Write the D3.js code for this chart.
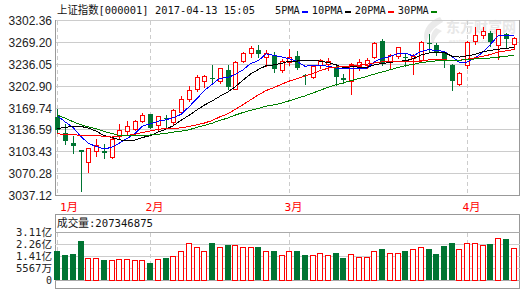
<!DOCTYPE html>
<html>
<head>
<meta charset="utf-8">
<script src="https://cdn.jsdelivr.net/npm/d3@7"></script>
<style>
html, body { margin: 0; padding: 0; background: #fff; overflow: hidden; }
svg { display: block; }
text { font-family: "Liberation Sans", Arial, "Noto Sans CJK SC", sans-serif; font-size: 12px; fill: #222; }
.mono { font-family: "DejaVu Sans Mono", "Noto Sans CJK SC", monospace; font-size: 11px; fill: #111; }
.vlab { font-size: 10.5px; fill: #222; }
</style>
</head>
<body>
<svg id="chart" width="520" height="289"></svg>
<script>
// trading days shown (2017-01-11 .. 2017-04-13)
const dates = [
  "01-11","01-12","01-13","01-16","01-17","01-18","01-19","01-20","01-23","01-24","01-25","01-26",
  "02-03","02-06","02-07","02-08","02-09","02-10","02-13","02-14","02-15","02-16","02-17","02-20",
  "02-21","02-22","02-23","02-24","02-27","02-28",
  "03-01","03-02","03-03","03-06","03-07","03-08","03-09","03-10","03-13","03-14","03-15","03-16",
  "03-17","03-20","03-21","03-22","03-23","03-24","03-27","03-28","03-29","03-30","03-31",
  "04-05","04-06","04-07","04-10","04-11","04-12","04-13"
];

const open = [3156,3132,3116,3105.5,3087.6,3104.3,3104,3095.2,3127,3134.6,3138.2,3149.8,
  3159.9,3144.3,3155,3148.2,3164.4,3183.7,3198.8,3211.4,3214.9,3211.4,3226.6,3198.8,
  3241.7,3253.4,3258,3247,3249.3,3226.6,
  3239.2,3249.3,3219,3216.4,3234.2,3237,3231.6,3215,3211.4,3233.1,3235,3246.7,
  3272,3240.7,3249.3,3247,3245.8,3242.8,3268.5,3264.5,3253.4,3234.2,3206.4,
  3234.2,3272,3281.1,3283.7,3264.5,3282.2,3266];
const high = [3167.5,3145.8,3128,3106.5,3109.5,3123.1,3115.5,3124,3145.8,3149.3,3151,3162.5,
  3161,3158,3158.5,3167.5,3187.6,3202.8,3219,3220,3235.2,3231,3234.2,3240.5,
  3255,3264.4,3264.5,3257,3254.4,3244,
  3259.5,3255.4,3221.6,3235,3244,3245,3235,3222,3238,3244,3246,3270,
  3274.6,3252,3262,3251,3252,3271,3282.2,3268,3256,3236.7,3224,
  3272,3292.2,3292,3287,3289.8,3284,3278];
const low = [3134,3115.5,3101.2,3044.2,3072.4,3097.7,3093.7,3094,3125,3130.6,3136,3148,
  3139.5,3137,3140.7,3146,3162,3181,3196,3202,3206.4,3207,3198.8,3198,
  3240,3246.7,3246.7,3234,3224,3224,
  3235.2,3229,3205.4,3215,3230,3228,3204,3208,3191.3,3227,3230,3246,
  3235.2,3229,3246,3234,3221.6,3241,3254.3,3250,3231.6,3196.3,3204,
  3231,3267,3276,3264,3244.3,3261.9,3259];
const close = [3136.75,3119.29,3112.76,3103.43,3108.77,3113.01,3101.30,3123.14,3136.77,3142.55,3149.55,3159.17,
  3140.17,3156.98,3153.09,3166.98,3183.18,3196.70,3216.84,3217.93,3212.99,3229.62,3202.08,3239.96,
  3253.33,3261.22,3251.37,3253.43,3228.66,3241.73,
  3246.93,3230.03,3218.31,3233.87,3242.41,3240.66,3216.75,3212.76,3237.02,3239.33,3241.76,3268.94,
  3237.45,3250.81,3261.61,3245.22,3248.55,3269.45,3266.96,3252.95,3241.31,3210.24,3222.51,
  3270.05,3281.00,3286.62,3269.39,3288.97,3273.83,3275.96];

const ma5 = [3157.88,3148.65,3140.34,3126.78,3116.20,3111.45,3107.85,3109.93,3116.60,3123.35,
  3130.66,3142.24,3145.64,3149.68,3151.79,3155.28,3160.08,3171.39,3183.36,3196.33,
  3205.53,3214.82,3215.89,3220.52,3227.60,3237.24,3241.59,3251.86,3249.60,3247.28,
  3244.42,3240.16,3233.13,3234.17,3234.31,3233.06,3230.40,3229.29,3229.92,3229.30,
  3229.52,3239.96,3244.90,3247.66,3252.11,3252.81,3248.73,3255.13,3258.36,3256.63,
  3255.84,3248.18,3238.79,3239.41,3245.02,3254.08,3265.91,3279.21,3279.96,3278.95];
const ma10 = [3138.61,3140.31,3141.98,3141.96,3139.24,3134.67,3128.25,3125.14,3121.69,3119.78,
  3121.06,3125.05,3127.79,3133.14,3137.57,3142.97,3151.16,3158.51,3166.52,3174.06,
  3180.40,3187.45,3193.64,3201.94,3211.96,3221.39,3228.20,3233.88,3235.06,3237.44,
  3240.83,3240.87,3242.50,3241.89,3240.80,3238.74,3235.28,3231.21,3232.05,3231.81,
  3231.29,3235.18,3237.10,3238.79,3240.71,3241.17,3244.35,3250.01,3253.01,3254.37,
  3254.33,3248.46,3246.96,3248.89,3250.82,3254.96,3257.05,3259.00,3259.69,3261.99];
const ma20 = [3130.63,3129.57,3129.32,3128.34,3127.88,3128.39,3126.58,3125.76,3127.09,3128.09,
  3129.83,3132.68,3134.88,3137.55,3138.41,3138.82,3139.71,3141.83,3144.11,3146.92,
  3150.73,3156.25,3160.71,3167.54,3174.77,3182.18,3189.68,3196.20,3200.79,3205.75,
  3210.62,3214.16,3218.07,3221.91,3226.38,3230.06,3231.74,3232.54,3233.55,3234.62,
  3236.06,3238.03,3239.80,3240.34,3240.75,3239.95,3239.81,3240.61,3242.53,3243.09,
  3242.81,3241.82,3242.03,3243.84,3245.77,3248.06,3250.70,3254.51,3256.35,3258.18];
const ma30 = [3158.75,3154.40,3149.05,3144.36,3141.17,3138.28,3134.25,3131.17,3127.97,3127.62,
  3127.44,3128.06,3128.81,3129.94,3131.11,3133.25,3134.77,3136.68,3140.23,3143.41,
  3146.69,3150.94,3154.47,3159.01,3162.93,3166.34,3169.21,3172.51,3174.42,3177.09,
  3180.76,3184.46,3187.97,3192.32,3196.78,3201.03,3204.88,3207.87,3211.21,3214.44,
  3217.51,3221.17,3224.41,3227.54,3231.16,3233.76,3235.94,3238.37,3240.04,3241.21,
  3242.15,3241.50,3242.18,3243.19,3244.11,3244.96,3245.56,3246.74,3248.25,3249.39];

// volume, shares
const volume = [1.90e8,1.64e8,1.70e8,2.55e8,1.47e8,1.43e8,1.36e8,1.36e8,1.40e8,1.40e8,1.30e8,1.30e8,
  1.12e8,1.40e8,1.43e8,1.56e8,1.92e8,2.40e8,2.18e8,1.92e8,2.40e8,2.18e8,2.31e8,2.33e8,
  2.14e8,2.14e8,2.14e8,1.92e8,1.88e8,1.64e8,
  1.92e8,1.88e8,1.68e8,1.68e8,1.75e8,1.68e8,1.75e8,1.49e8,1.73e8,1.53e8,1.53e8,1.92e8,
  2.07e8,1.79e8,1.75e8,1.94e8,2.01e8,2.18e8,2.07e8,1.70e8,2.22e8,2.46e8,2.01e8,
  2.44e8,2.44e8,2.33e8,2.35e8,2.77e8,2.66e8,207346875];

const priceTicks = [3037.12,3070.28,3103.43,3136.59,3169.74,3202.90,3236.05,3269.20,3302.36];
const volTickLabels = ["0","5567万","1.41亿","2.26亿","3.11亿"];
const monthStarts = ["01-11","02-03","03-01","04-05"];
const monthLabels = ["1月","2月","3月","4月"];
const maNames = ["5PMA","10PMA","20PMA","30PMA"];
const maColors = ["#0000ff","#000000","#ff0000","#008000"];

const RED = "#ff0000", GREEN = "#007432";
const L = 55, R = 519;

const svg = d3.select("#chart");

// fixed-width text helper: half-width chars 6px, CJK 12px
function monoWidth(s) {
    let w = 0;
    for (const ch of s) w += ch.charCodeAt(0) > 255 ? 12 : 6;
    return w;
}
function monoText(g, s, x, y) {
    return g.append("text")
        .attr("class", "mono")
        .attr("x", x).attr("y", y)
        .attr("textLength", monoWidth(s))
        .attr("lengthAdjust", "spacingAndGlyphs")
        .text(s);
}

const x = d3.scaleBand().domain(dates).range([53.6, 517.4]);
const cx = d => Math.round(x(d) + x.bandwidth() / 2) + 0.5;
const y = d3.scaleLinear().domain([3037.12, 3302.36]).range([195.5, 20.5]);
const py = v => Math.round(y(v) - 0.5) + 0.5;
const vy = d3.scaleLinear().domain([0, 3.11e8]).range([280.5, 232.5]);
const vLab = d3.scalePoint().domain(volTickLabels).range([280.5, 232.5]);

// watermark
const wm = svg.append("g").attr("opacity", 0.5);
wm.append("path")
    .attr("d", "M440,17 C426,22 421,34 426,44 C428,34 433,27 443,22 Z M436,28 C430,33 430,40 433,45 C434,39 437,34 442,31 Z")
    .attr("fill", "#d6d6d6");
wm.append("text").attr("x", 446).attr("y", 32)
    .style("font-family", "'Noto Sans CJK SC', sans-serif").style("font-size", "14px").style("font-weight", "bold")
    .style("fill", "#d0d0d0").text("东方财富网");
wm.append("text").attr("x", 449).attr("y", 43)
    .style("font-size", "6px").style("font-weight", "bold").style("fill", "#d6d6d6").text("eastmoney.com");

// title + legend
monoText(svg, "上证指数[000001] 2017-04-13 15:05", 57, 14);
let lx = 275;
maNames.forEach((name, k) => {
    const w = name.length * 6.2;
    svg.append("text").attr("class", "mono")
        .attr("x", lx).attr("y", 14)
        .attr("textLength", w).attr("lengthAdjust", "spacingAndGlyphs")
        .text(name);
    svg.append("rect")
        .attr("x", Math.round(lx + w + 2)).attr("y", 11)
        .attr("width", 6).attr("height", 2)
        .attr("fill", maColors[k]);
    lx += w + 12;
});

// price panel grid
const grid = svg.append("g").attr("shape-rendering", "crispEdges");
grid.selectAll(".hgrid").data(priceTicks).join("line")
    .attr("x1", L).attr("x2", R + 1)
    .attr("y1", d => py(d)).attr("y2", d => py(d))
    .attr("stroke", (d, i) => i === 0 ? "#999" : "#ccc");
grid.selectAll(".vgrid").data(monthStarts).join("line")
    .attr("x1", d => cx(d)).attr("x2", d => cx(d))
    .attr("y1", 21).attr("y2", 195)
    .attr("stroke", "#ccc").attr("stroke-dasharray", "4,3");
grid.append("line").attr("x1", L + 0.5).attr("x2", L + 0.5).attr("y1", 20).attr("y2", 196).attr("stroke", "#999");
grid.append("line").attr("x1", R + 0.5).attr("x2", R + 0.5).attr("y1", 20).attr("y2", 196).attr("stroke", "#999");

svg.selectAll(".plab").data(priceTicks).join("text")
    .attr("x", 52).attr("y", d => py(d) + 4.5)
    .attr("text-anchor", "end")
    .text(d => d.toFixed(2));

// candles
const candles = svg.append("g").attr("shape-rendering", "crispEdges");
dates.forEach((d, i) => {
    const up = close[i] >= open[i];
    const col = up ? RED : GREEN;
    const c = cx(d), n = Math.floor(c);
    candles.append("line")
        .attr("x1", c).attr("x2", c)
        .attr("y1", Math.round(y(high[i]))).attr("y2", Math.round(y(low[i])) + 1)
        .attr("stroke", col);
    if (up) {
        const top = Math.round(y(close[i])) + 0.5;
        const bot = Math.round(y(open[i])) + 0.5;
        candles.append("rect")
            .attr("x", n - 1.5).attr("y", top)
            .attr("width", 4).attr("height", Math.max(bot - top, 1))
            .attr("fill", "#fff").attr("stroke", RED);
    } else {
        const top = Math.round(y(open[i]));
        const bot = Math.round(y(close[i]));
        candles.append("rect")
            .attr("x", n - 2).attr("y", top)
            .attr("width", 5).attr("height", Math.max(bot - top, 1))
            .attr("fill", GREEN);
    }
});

// moving averages
[ma5, ma10, ma20, ma30].forEach((series, k) => {
    svg.append("path")
        .datum(series)
        .attr("fill", "none")
        .attr("stroke", maColors[k])
        .attr("stroke-width", 1)
        .attr("shape-rendering", "crispEdges")
        .attr("d", d3.line()
            .x((v, i) => x(dates[i]) + x.bandwidth() / 2)
            .y(v => y(v)));
});

// month labels
svg.selectAll(".mlab").data(monthStarts).join("text")
    .attr("class", "mono")
    .attr("x", d => Math.max(60, cx(d) - 5))
    .attr("y", 211)
    .attr("textLength", (d, i) => monoWidth(monthLabels[i]))
    .attr("lengthAdjust", "spacingAndGlyphs")
    .style("fill", RED)
    .text((d, i) => monthLabels[i]);

// volume panel
const vg = svg.append("g").attr("shape-rendering", "crispEdges");
vg.append("line").attr("x1", L).attr("x2", R + 1).attr("y1", 214.5).attr("y2", 214.5).attr("stroke", "#999");
vg.append("line").attr("x1", L).attr("x2", R + 1).attr("y1", 288.5).attr("y2", 288.5).attr("stroke", "#999");
vg.append("line").attr("x1", L + 0.5).attr("x2", L + 0.5).attr("y1", 214).attr("y2", 289).attr("stroke", "#999");
vg.append("line").attr("x1", R + 0.5).attr("x2", R + 0.5).attr("y1", 214).attr("y2", 289).attr("stroke", "#999");
vg.selectAll(".vh").data(volTickLabels).join("line")
    .attr("x1", L).attr("x2", R + 1)
    .attr("y1", d => vLab(d)).attr("y2", d => vLab(d))
    .attr("stroke", (d, i) => (i === 0 || i === volTickLabels.length - 1) ? "#aaa" : "#ccc");
vg.selectAll(".vv").data(monthStarts).join("line")
    .attr("x1", d => cx(d)).attr("x2", d => cx(d))
    .attr("y1", 233).attr("y2", 280)
    .attr("stroke", "#ccc").attr("stroke-dasharray", "4,3");

svg.selectAll(".vlab").data(volTickLabels).join("text")
    .attr("class", "mono vlab")
    .attr("x", 52).attr("y", d => vLab(d) + 3.5)
    .attr("text-anchor", "end")
    .attr("textLength", d => monoWidth(d))
    .attr("lengthAdjust", "spacingAndGlyphs")
    .text(d => d);

monoText(svg, "成交量:" + volume[volume.length - 1], 57, 227);

dates.forEach((d, i) => {
    const up = close[i] >= open[i];
    const n = Math.floor(cx(d));
    if (up) {
        const top = Math.round(vy(volume[i])) + 0.5;
        vg.append("rect")
            .attr("x", n - 2.5).attr("y", top)
            .attr("width", 5).attr("height", 280.5 - top)
            .attr("fill", "#fff").attr("stroke", RED);
    } else {
        const top = Math.round(vy(volume[i]));
        vg.append("rect")
            .attr("x", n - 3).attr("y", top)
            .attr("width", 6).attr("height", 280 - top)
            .attr("fill", GREEN);
    }
});
</script>
</body>
</html>
